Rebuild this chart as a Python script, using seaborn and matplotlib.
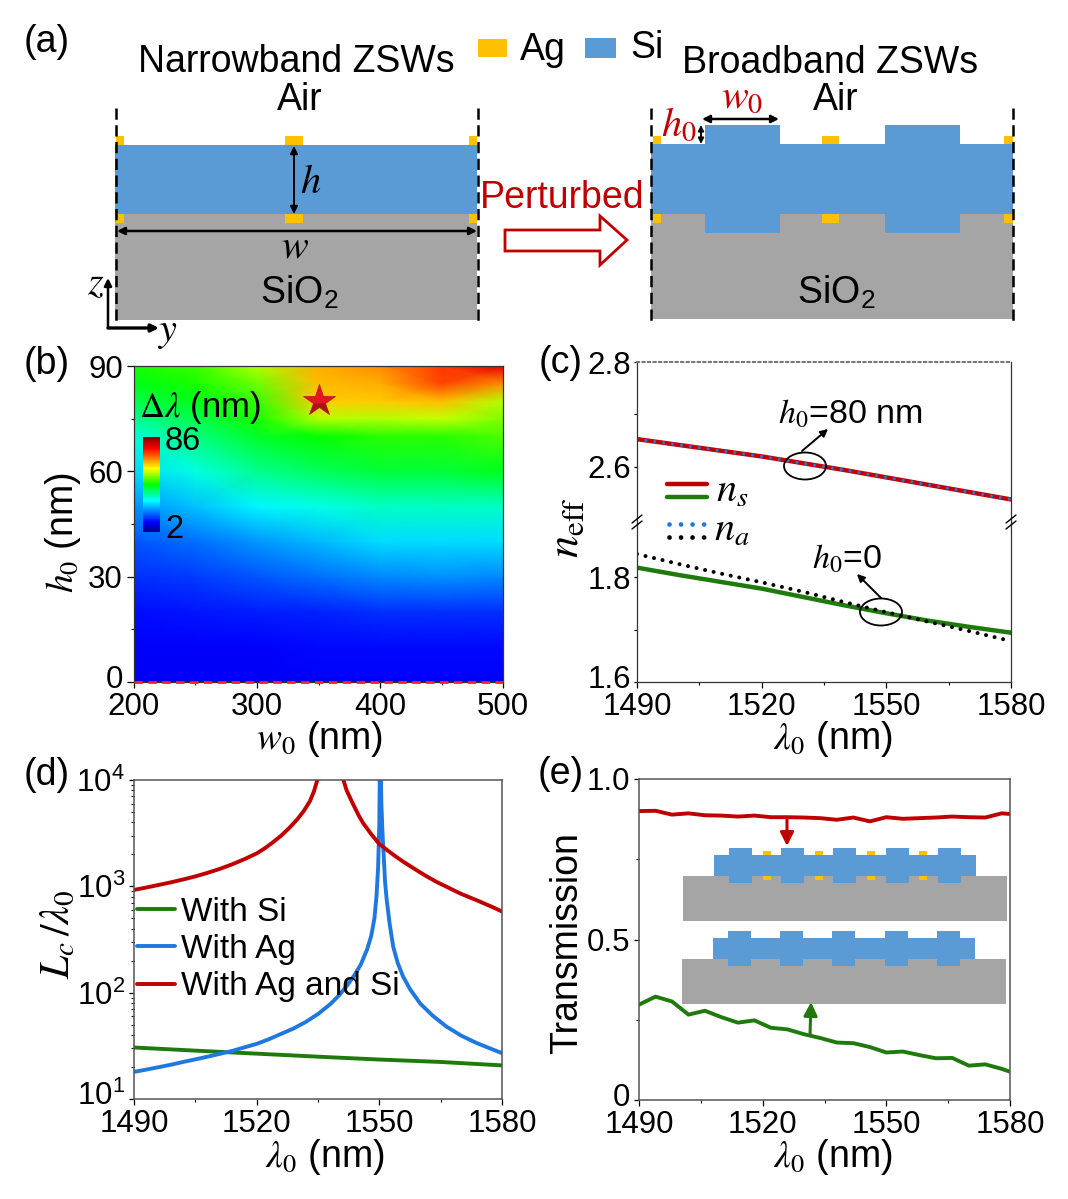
import numpy as np
import pandas as pd
import seaborn as sns
import matplotlib.pyplot as plt
from matplotlib.colors import LinearSegmentedColormap
from matplotlib.patches import Rectangle, Ellipse, Polygon
from matplotlib.ticker import FixedLocator, NullFormatter
from matplotlib.transforms import ScaledTranslation

# values
w0_grid = [200, 250, 300, 350, 400, 450, 500]
h0_grid = [0, 10, 20, 30, 40, 50, 60, 70, 75, 80, 85, 90]
dlambda_h00 = [10, 10, 10, 10, 10, 10, 10]
dlambda_h10 = [10.5, 10.5, 10.5, 11, 11, 11, 11]
dlambda_h20 = [11.5, 12, 12.5, 13, 14, 14, 14]
dlambda_h30 = [14, 15, 17, 19, 21, 21.5, 21]
dlambda_h40 = [17, 19, 22, 24.5, 27, 27, 27]
dlambda_h50 = [21.5, 25, 29, 31, 33, 33, 33]
dlambda_h60 = [27, 31.5, 36, 39, 41, 41, 42.5]
dlambda_h70 = [32, 37, 42, 44, 46, 46, 48]
dlambda_h75 = [36, 40, 45, 54, 54, 55, 51]
dlambda_h80 = [40, 43, 47, 62, 62, 63, 54]
dlambda_h85 = [43, 45, 50, 63, 64, 71, 66]
dlambda_h90 = [45, 47, 54, 64, 66, 72, 78]
star_w0, star_h0 = 350, 80

lam_c = [1490, 1500, 1510, 1520, 1530, 1540, 1550, 1560, 1570, 1580]
ns_upper = [2.653, 2.642, 2.631, 2.620, 2.607, 2.594, 2.580, 2.566, 2.552, 2.538]
ns_lower = [1.818, 1.804, 1.791, 1.778, 1.762, 1.746, 1.731, 1.717, 1.705, 1.694]
na_lower = [1.844, 1.825, 1.807, 1.790, 1.772, 1.752, 1.733, 1.715, 1.697, 1.678]

lam_si = [1490, 1505, 1520, 1535, 1550, 1565, 1580]
lc_si = [30.5, 28.5, 26.7, 25, 23.5, 22.3, 20.7]
lam_ag = [1490, 1493, 1496, 1499, 1502, 1505, 1508, 1511, 1514, 1517, 1520, 1523, 1526, 1529,
          1532, 1535, 1538, 1540, 1542, 1544, 1545.5, 1547, 1548, 1548.8, 1549.3, 1549.7, 1550,
          1550.2, 1550.5, 1550.8, 1551, 1551.4, 1551.8, 1552.5, 1553.4, 1554.5, 1555.8, 1557.5,
          1560, 1563, 1566.4, 1570, 1573.8, 1577, 1580]
lc_ag = [18, 18.9, 19.9, 21, 22.3, 23.6, 25, 26.6, 28.3, 30.6, 33, 36.5, 41, 46,
         53, 63, 78, 93, 115, 148, 185, 255, 340, 500, 800, 1500, 4000,
         30000, 6000, 3000, 2190, 1100, 750, 450, 270, 190, 142, 108,
         79, 61, 48, 39.5, 33.6, 30, 27]
lam_agsi = [1490, 1493, 1496, 1499, 1502, 1505, 1508, 1511, 1514, 1517, 1520, 1522, 1524, 1526,
            1528, 1530, 1531.5, 1533, 1534, 1535, 1536, 1537, 1540, 1541.2, 1542, 1543, 1544,
            1545, 1546, 1548, 1550, 1552, 1554, 1556, 1558, 1560, 1562, 1564, 1566, 1568, 1570,
            1572, 1574, 1576, 1578, 1580]
lc_agsi = [925, 975, 1030, 1090, 1160, 1240, 1340, 1460, 1610, 1800, 2040, 2280, 2600, 3000,
           3550, 4300, 5100, 6300, 7800, 10500, 17000, 40000, 30000, 10000, 8000, 6600, 5500,
           4600, 3950, 3100, 2500, 2180, 1910, 1690, 1510, 1350, 1215, 1100, 1010, 925, 850,
           790, 735, 680, 630, 580]

lam_t = [1490, 1494, 1498, 1502, 1506, 1510, 1514, 1518, 1522, 1526, 1530, 1534,
         1538, 1542, 1546, 1550, 1554, 1558, 1562, 1566, 1570, 1574, 1578, 1580]
t_red = [0.900, 0.901, 0.889, 0.893, 0.887, 0.886, 0.883, 0.886, 0.881, 0.881, 0.880, 0.878,
         0.873, 0.880, 0.868, 0.881, 0.876, 0.878, 0.880, 0.883, 0.881, 0.880, 0.893, 0.891]
t_green = [0.297, 0.322, 0.307, 0.266, 0.278, 0.258, 0.241, 0.248, 0.225, 0.220, 0.205, 0.193,
           0.179, 0.177, 0.165, 0.148, 0.151, 0.140, 0.130, 0.131, 0.107, 0.111, 0.097, 0.088]

RED = '#C00000'
GREEN = '#1F7A0C'
BLUE = '#1F78E0'
AG = '#FFC000'
SI = '#5B9BD5'
SIO2 = '#A5A5A5'
W, H = 1068, 1199
TICK = 22.5
LABEL = 27

rainbow = LinearSegmentedColormap.from_list('rainbow_map', [
    (0.0, '#00007F'), (0.1, '#0000FF'), (0.33, '#00FFFF'), (0.5, '#00FF00'),
    (0.67, '#FFFF00'), (0.88, '#FF0000'), (1.0, '#7F0000')])

sns.set_theme(style='ticks', rc={'axes.linewidth': 0.9, 'axes.edgecolor': '#333333',
                                 'xtick.color': 'black', 'ytick.color': 'black',
                                 'text.color': 'black', 'axes.labelcolor': 'black',
                                 'mathtext.fontset': 'stix'})
plt.rcParams['font.family'] = ['Liberation Sans', 'DejaVu Sans']

fig = plt.figure(figsize=(W / 100, H / 100), dpi=100, facecolor='white')


def px_axes(left, top, right, bottom):
    return fig.add_axes([left / W, 1 - bottom / H, (right - left) / W, (bottom - top) / H])


def style_axis(ax, xmajor, xminor, ymajor=None, yminor=None, ypad=3, ylen=5):
    ax.xaxis.set_major_locator(FixedLocator(xmajor))
    ax.xaxis.set_minor_locator(FixedLocator(xminor))
    if ymajor is not None:
        ax.yaxis.set_major_locator(FixedLocator(ymajor))
        ax.yaxis.set_minor_locator(FixedLocator(yminor))
    ax.tick_params(which='major', length=4.5, width=0.9, labelsize=TICK)
    ax.tick_params(which='minor', length=2.5, width=0.8)
    ax.tick_params(axis='x', which='major', pad=2.5)
    ax.tick_params(axis='y', which='major', pad=ypad, length=ylen)


def lift_first_ylabel(ax, pixels=6):
    # bottom y tick label sits a bit above its tick in the reference
    lab = ax.yaxis.get_major_ticks()[0].label1
    lab.set_transform(lab.get_transform() + ScaledTranslation(0, pixels / 100, fig.dpi_scale_trans))


def place_labels(ax, xlabel, ylabel, xpx, ypx):
    """Put the axis labels at a pixel position, given as (x, y) centre of each label."""
    box = ax.get_position()
    ax.set_xlabel(xlabel, fontsize=LABEL, va='center')
    ax.set_ylabel(ylabel, fontsize=LABEL, va='center')
    to_ax = lambda p: ((p[0] / W - box.x0) / box.width, ((1 - p[1] / H) - box.y0) / box.height)
    ax.xaxis.set_label_coords(*to_ax(xpx))
    ax.yaxis.set_label_coords(*to_ax(ypx))


# (b) bandwidth map
ax_b = px_axes(134, 366, 503, 682)
grid = np.array([dlambda_h00, dlambda_h10, dlambda_h20, dlambda_h30, dlambda_h40, dlambda_h50,
                 dlambda_h60, dlambda_h70, dlambda_h75, dlambda_h80, dlambda_h85, dlambda_h90])
mesh = ax_b.pcolormesh(w0_grid, h0_grid, grid, shading='gouraud', cmap=rainbow, vmin=2, vmax=86)
ax_b.axhline(0, color='#FF2020', ls=(0, (3, 2)), lw=2, clip_on=False, zorder=5)
ax_b.plot([star_w0], [star_h0], marker='*', ms=24, fillstyle='bottom', mfc='#A8121E',
          markerfacecoloralt='#E3161F', mec='#C01020', mew=0.5, ls='none', zorder=6)
style_axis(ax_b, [200, 300, 400, 500], [250, 350, 450], [0, 30, 60, 90], [15, 45, 75])
ax_b.set_xlim(200, 500)
ax_b.set_ylim(0, 90)
lift_first_ylabel(ax_b)
place_labels(ax_b, r'$w_0$ (nm)', r'$h_0$ (nm)', (320, 739), (63, 533))
cax = px_axes(143, 437, 160, 532)
bar = fig.colorbar(mesh, cax=cax, ticks=[])
bar.outline.set_visible(False)

# (c) effective index, broken axis
ax_c1 = px_axes(637, 362, 1011, 522)
ax_c2 = px_axes(637, 522, 1011, 682)
sns.lineplot(x=lam_c, y=ns_upper, color=RED, lw=3.2, ax=ax_c1, errorbar=None)
sns.lineplot(x=lam_c, y=ns_upper, color=BLUE, lw=2.3, ax=ax_c1, errorbar=None,
             linestyle=(0, (0.01, 2.8)), dash_capstyle='round')
sns.lineplot(x=lam_c, y=ns_lower, color=GREEN, lw=3.2, ax=ax_c2, errorbar=None)
sns.lineplot(x=lam_c, y=na_lower, color='black', lw=2.9, ax=ax_c2, errorbar=None,
             linestyle=(0, (0.01, 2.16)), dash_capstyle='round')
for ax in (ax_c1, ax_c2):
    style_axis(ax, [1490, 1520, 1550, 1580], [1505, 1535, 1565], ypad=2, ylen=2.5)
    ax.set_xlim(1490, 1580)
ax_c1.set_ylim(2.495, 2.8)
ax_c2.set_ylim(1.6, 1.905)
ax_c1.yaxis.set_major_locator(FixedLocator([2.6, 2.8]))
ax_c1.yaxis.set_minor_locator(FixedLocator([2.7]))
ax_c2.yaxis.set_major_locator(FixedLocator([1.6, 1.8]))
ax_c2.yaxis.set_minor_locator(FixedLocator([1.7]))
ax_c1.set_yticklabels(['2.6', '2.8'])
ax_c2.set_yticklabels(['1.6', '1.8'])
lift_first_ylabel(ax_c2)
ax_c1.spines['bottom'].set_visible(False)
ax_c2.spines['top'].set_visible(False)
ax_c1.spines['top'].set_linestyle(':')
ax_c1.spines['top'].set_color('#777777')
ax_c1.spines['top'].set_linewidth(1.5)
ax_c1.tick_params(which='both', bottom=False, labelbottom=False)
place_labels(ax_c2, r'$\lambda_0$ (nm)', '', (833, 739), (567, 528))
fig.text(567 / W, 1 - 528 / H, r'$n_{\mathrm{eff}}$', fontsize=LABEL + 5, rotation=90,
         ha='center', va='center')

# (d) coupling length
ax_d = px_axes(134, 780, 502, 1099)
ax_d.set_yscale('log')
sns.lineplot(x=lam_si, y=lc_si, color=GREEN, lw=2.8, ax=ax_d, errorbar=None, label='With Si')
sns.lineplot(x=lam_ag, y=lc_ag, color=BLUE, lw=2.8, ax=ax_d, errorbar=None, label='With Ag')
sns.lineplot(x=lam_agsi, y=lc_agsi, color=RED, lw=2.8, ax=ax_d, errorbar=None, label='With Ag and Si')
style_axis(ax_d, [1490, 1520, 1550, 1580], [1505, 1535, 1565], [10, 100, 1000, 10000],
           [m * d for d in (10, 100, 1000) for m in range(2, 10)], ypad=3, ylen=3.5)
ax_d.yaxis.set_minor_formatter(NullFormatter())
ax_d.set_xlim(1490, 1580)
ax_d.set_ylim(10, 1e4)
lift_first_ylabel(ax_d)
place_labels(ax_d, r'$\lambda_0$ (nm)', r'$L_c\,/\lambda_0$', (325, 1157), (58, 934))
ax_d.yaxis.label.set_fontsize(30)
ax_d.legend(loc='upper left', bbox_to_anchor=(0.0, 0.645), frameon=False, fontsize=24,
            handlelength=1.12, handletextpad=0.2, labelspacing=0.19, borderpad=0, borderaxespad=0.1)

# (e) transmission
ax_e = px_axes(639, 779, 1010, 1100)
sns.lineplot(x=lam_t, y=t_red, color=RED, lw=2.8, ax=ax_e, errorbar=None)
sns.lineplot(x=lam_t, y=t_green, color=GREEN, lw=2.8, ax=ax_e, errorbar=None)
style_axis(ax_e, [1490, 1520, 1550, 1580], [1505, 1535, 1565], [0, 0.5, 1.0], [0.25, 0.75],
           ypad=3, ylen=3.5)
ax_e.set_yticklabels(['0', '0.5', '1.0'])
ax_e.set_xlim(1490, 1580)
ax_e.set_ylim(0, 1)
lift_first_ylabel(ax_e, 5)
place_labels(ax_e, r'$\lambda_0$ (nm)', 'Transmission', (833, 1157), (567, 943))
for ax in (ax_d, ax_e):
    for spine in ax.spines.values():
        spine.set_color('#555555')
        spine.set_linewidth(1.1)

# schematics and annotations, in image pixels
ov = fig.add_axes([0, 0, 1, 1], zorder=20)
ov.set_xlim(0, W)
ov.set_ylim(H, 0)
ov.axis('off')
ov.patch.set_alpha(0)


def rect(x0, y0, x1, y1, color, z=2):
    ov.add_patch(Rectangle((x0, y0), x1 - x0, y1 - y0, facecolor=color, edgecolor='none', zorder=z))


def label(x, y, s, size=LABEL, color='black', **kw):
    ov.text(x, y, s, fontsize=size, color=color, ha=kw.pop('ha', 'center'), va='center', zorder=8, **kw)


def arrow(x0, y0, x1, y1, color='black', lw=1.4, style='-|>', scale=11):
    ov.annotate('', xy=(x1, y1), xytext=(x0, y0), zorder=7,
                arrowprops=dict(arrowstyle=style, color=color, lw=lw, mutation_scale=scale,
                                shrinkA=0, shrinkB=0))


# left structure
rect(115, 214, 477, 320, SIO2)
rect(115, 145, 477, 214, SI)
for x0, x1 in [(116, 124), (285, 303), (469, 477)]:
    rect(x0, 136, x1, 145, AG)
    rect(x0, 214, x1, 223, AG)
# right structure
rect(651, 214, 1013, 319, SIO2)
rect(651, 144, 1013, 214, SI)
for x0, x1 in [(705, 780), (885, 960)]:
    rect(x0, 125, x1, 233, SI)
for x0, x1 in [(653, 661), (822, 839), (1004, 1013)]:
    rect(x0, 136, x1, 144, AG)
    rect(x0, 214, x1, 223, AG)
for x in (115.5, 477.5, 650.5, 1013):
    ov.plot([x, x], [108, 322], color='black', lw=1.8, ls=(0, (4.5, 2.2)), zorder=6)

rect(478, 39, 507, 57, AG)
rect(585, 38, 616, 58, SI)
label(543, 49.5, 'Ag')
label(647, 48.5, 'Si')
label(296, 62.5, 'Narrowband ZSWs')
label(830, 63, 'Broadband ZSWs')
label(300, 100.5, 'Air')
label(836, 100.5, 'Air')
label(299, 293, r'SiO$_{\mathdefault{2}}$')
label(836, 293, r'SiO$_{\mathdefault{2}}$')
label(562, 197.5, 'Perturbed', color=RED)
label(311, 182, r'$h$', 29)
label(295, 247, r'$w$', 29)
label(742, 97, r'$w_0$', 29, RED)
label(679, 125, r'$h_0$', 29, RED)
label(96, 283, r'$z$', 29)
label(168, 332, r'$y$', 29)
arrow(294, 146, 294, 214, style='<|-|>')
arrow(117, 231, 477, 231, style='<|-|>', lw=1.8)
arrow(702, 119, 779, 119, style='<|-|>', lw=1.8)
arrow(701, 125, 701, 144, style='<|-|>', scale=8)
arrow(108, 328, 108, 278, lw=1.8)
arrow(108, 328, 159, 328, lw=2.4)
ov.add_patch(Polygon([(505, 230), (600, 230), (600, 216), (627, 240), (600, 265), (600, 251), (505, 251)],
                     closed=True, facecolor='white', edgecolor=RED, lw=2, zorder=4))

for x, y, s in [(47, 42, '(a)'), (47, 364, '(b)'), (561, 363, '(c)'), (47, 775, '(d)'), (561, 774, '(e)')]:
    label(x, y, s)

# (b) colour scale texts
label(139, 408, r'$\Delta\lambda$ (nm)', 25, ha='left')
label(165, 442, '86', TICK + 1, ha='left')
label(165, 530, '2', TICK + 1, ha='left')

# (c) annotations
for xc, yc in [(805, 466), (881, 612)]:
    ov.add_patch(Ellipse((xc, yc), 42, 27, facecolor='none', edgecolor='black', lw=1.3, zorder=7))
arrow(802, 451, 828, 429)
arrow(881, 598, 857, 574)
label(850, 414, r'$h_0$=80 nm', 24.5)
label(847, 559, r'$h_0$=0', 24.5)
ov.plot([667, 707], [484, 484], color=RED, lw=3.2, zorder=7)
ov.plot([667, 707], [497, 497], color=GREEN, lw=3.2, zorder=7)
ov.plot([669, 706], [524, 524], color=BLUE, lw=3.4, ls=(0, (0.01, 2.43)), dash_capstyle='round', zorder=7)
ov.plot([669, 706], [537, 537], color='black', lw=3.4, ls=(0, (0.01, 2.43)), dash_capstyle='round', zorder=7)
label(732, 491, r'$n_s$', 29)
label(732, 530, r'$n_a$', 29)
for x in (637, 1011):
    for dy in (-3, 3):
        ov.plot([x - 5, x + 5], [522 + dy + 4, 522 + dy - 4], color='black', lw=1, zorder=9)

# (e) inset structures
for dx, dy, with_ag in [(0, 0, True), (-1, 83, False)]:
    rect(683 + dx, 876 + dy, 1007 + dx, 921 + dy, SIO2, 3)
    rect(714 + dx, 855 + dy, 976 + dx, 876 + dy, SI, 3)
    for x0 in (729, 781, 833, 886, 938):
        rect(x0 + dx, 848 + dy, x0 + 23 + dx, 883 + dy, SI, 3)
    if with_ag:
        for x0 in (763, 815, 867, 919):
            rect(x0, 851, x0 + 8, 855, AG, 3)
            rect(x0, 876, x0 + 8, 880, AG, 3)
arrow(787, 818, 787, 846, RED, lw=2.2, scale=20)
arrow(810, 1035, 811, 1002, GREEN, lw=2.2, scale=20)

fig.savefig('out.png', dpi=100)
